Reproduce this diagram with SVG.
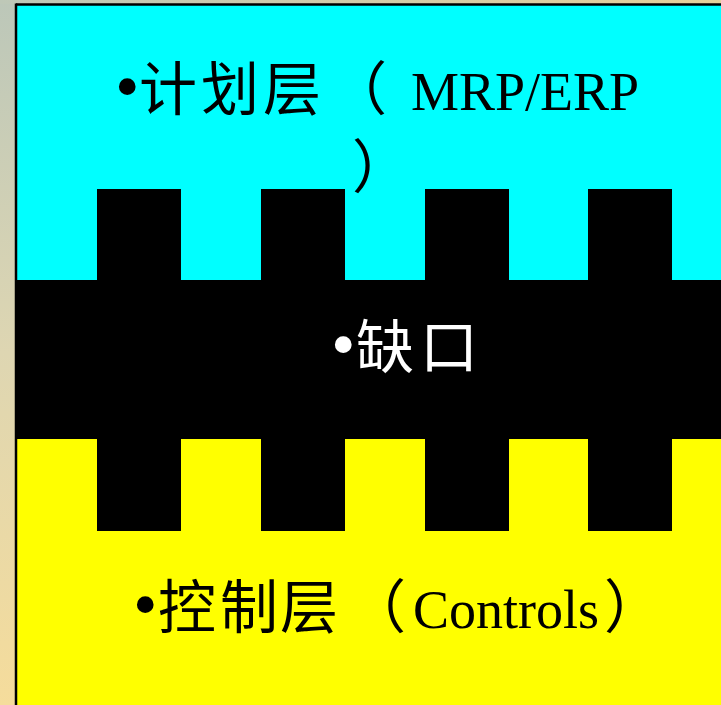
<svg xmlns="http://www.w3.org/2000/svg" width="721" height="705" viewBox="0 0 721 705">
  <defs>
    <linearGradient id="bgV" x1="0" y1="0" x2="0" y2="1">
      <stop offset="0" stop-color="#bcc7b9"/>
      <stop offset="0.5" stop-color="#ded6b2"/>
      <stop offset="1" stop-color="#f5dc9b"/>
    </linearGradient>
    <linearGradient id="bgH" x1="0" y1="0" x2="1" y2="0">
      <stop offset="0" stop-color="#bec8b8"/>
      <stop offset="1" stop-color="#e6d09a"/>
    </linearGradient>
  </defs>
  <style>
    .lat { font-family: "Liberation Serif", "Noto Sans CJK SC", serif; font-size: 54px; }
    .bul { font-family: "Liberation Serif", serif; font-size: 70px; }
    .cjk { font-family: "Noto Sans CJK SC", "Liberation Serif", serif; font-size: 58px; }
    .tab { fill: #000000; }
  </style>

  <!-- background -->
  <rect x="0" y="0" width="721" height="705" fill="url(#bgV)"/>
  <rect x="0" y="0" width="721" height="4" fill="url(#bgH)"/>

  <!-- planning layer -->
  <g id="planning-layer">
    <rect x="17" y="5" width="704" height="275" fill="#00ffff"/>
    <text y="110">
      <tspan class="bul" x="115">•</tspan>
      <tspan class="cjk" x="139">计</tspan>
      <tspan class="cjk" x="201">划</tspan>
      <tspan class="cjk" x="263">层</tspan>
      <tspan class="cjk" x="329">（</tspan>
      <tspan class="lat" x="411">MRP/ERP</tspan>
    </text>
    <text y="188"><tspan class="cjk" x="352">）</tspan></text>
  </g>

  <!-- gap layer -->
  <g id="gap-layer">
    <rect x="17" y="280" width="704" height="159" fill="#000000"/>
    <rect class="tab" x="97" y="189" width="84" height="91"/>
    <rect class="tab" x="261" y="189" width="84" height="91"/>
    <rect class="tab" x="425" y="189" width="84" height="91"/>
    <rect class="tab" x="588" y="189" width="84" height="91"/>
    <text y="368" fill="#ffffff">
      <tspan class="bul" x="331">•</tspan>
      <tspan class="cjk" x="356">缺</tspan>
      <tspan class="cjk" x="420">口</tspan>
    </text>
  </g>

  <!-- control layer -->
  <g id="control-layer">
    <rect x="17" y="439" width="704" height="266" fill="#ffff00"/>
    <rect class="tab" x="97" y="439" width="84" height="92"/>
    <rect class="tab" x="261" y="439" width="84" height="92"/>
    <rect class="tab" x="425" y="439" width="84" height="92"/>
    <rect class="tab" x="588" y="439" width="84" height="92"/>
    <text y="628">
      <tspan class="bul" x="133">•</tspan>
      <tspan class="cjk" x="158">控</tspan>
      <tspan class="cjk" x="220">制</tspan>
      <tspan class="cjk" x="280">层</tspan>
      <tspan class="cjk" x="348">（</tspan>
      <tspan class="lat" x="413">Controls</tspan>
      <tspan class="cjk" x="604">）</tspan>
    </text>
  </g>

  <!-- frame border -->
  <g id="frame">
    <line x1="16" y1="4.5" x2="721" y2="4.5" stroke="#000000" stroke-width="2.5"/>
    <line x1="16" y1="3.5" x2="16" y2="705" stroke="#000000" stroke-width="2.5"/>
  </g>
</svg>
